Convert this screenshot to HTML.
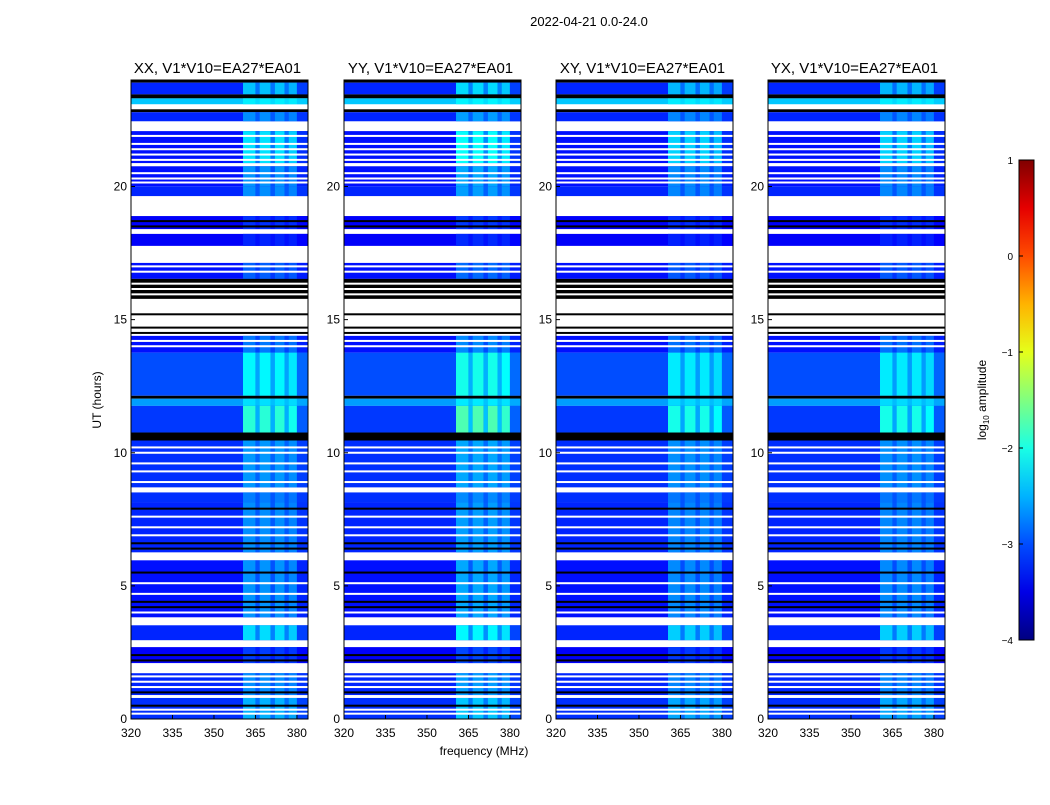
<!DOCTYPE html>
<html><head><meta charset="utf-8"><style>
body{margin:0;background:#fff;font-family:"Liberation Sans",sans-serif}
svg text{font-family:"Liberation Sans",sans-serif}
</style></head><body>
<svg id="fig" width="1050" height="800"></svg>
<script>
const titles=["XX, V1*V10=EA27*EA01","YY, V1*V10=EA27*EA01","XY, V1*V10=EA27*EA01","YX, V1*V10=EA27*EA01"];
const panelX=[131,344,556,768];
const panelGain=[0.65,0.75,0.6,0.6];
const xTicks=[320,335,350,365,380];
const yTicks=[0,5,10,15,20];
const cbTicks=[1,0,-1,-2,-3,-4];
// segments: kind, start hour, end hour, base log amplitude, band boost
const segKind=['k','d','k','d','w','k','d','w','d','w','d','d','w','d','w','d','w','d','k','w','d','d','k','d','d','k','d','w','d','d','w','d','w','d','w','d','w','d','w','d'];
const segStart=[23.9,23.46,23.31,23.09,22.9,22.79,22.45,22.08,20.88,20.76,20.01,19.64,18.89,18.4,18.22,17.77,17.13,16.53,15.78,14.39,13.76,12.14,12.03,11.76,10.76,10.46,8.7,8.51,8.13,6.26,5.96,3.82,3.52,2.96,2.7,2.1,1.72,0.9,0.79,0];
const segEnd=[24,23.9,23.46,23.31,23.09,22.9,22.79,22.45,22.08,20.88,20.76,20.01,19.64,18.89,18.4,18.22,17.77,17.13,16.53,15.78,14.39,13.76,12.14,12.03,11.76,10.76,10.46,8.7,8.51,8.13,6.26,5.96,3.82,3.52,2.96,2.7,2.1,1.72,0.9,0.79];
const segBase=[0,-3.2,0,-2.4,0,0,-3.2,0,-3.3,0,-3.3,-3.2,0,-3.4,0,-3.4,0,-3.3,0,0,-3.3,-3.0,0,-2.6,-3.1,0,-3.15,0,-3.15,-3.2,0,-3.3,0,-3.2,0,-3.4,0,-3.2,0,-3.15];
const segBoost=[0,1.2,0,0.3,0,0,0.8,0,1.6,0,1.0,0.8,0,0.4,0,0.3,0,0.6,0,0,0.8,1.3,0,0.5,1.8,0,0.8,0,0.6,0.8,0,1.0,0,1.4,0,0.5,0,0.8,0,1.0];
// thin lines overlaid: hour and kind
const lineHour=[21.9,21.6,21.4,21.2,21.0,20.5,20.3,20.15,18.7,18.5,17.0,16.8,16.35,16.15,15.95,15.2,14.7,14.5,14.2,14.0,10.2,10.0,9.6,9.3,8.9,7.9,7.6,7.2,6.9,6.6,6.4,5.5,5.1,4.7,4.4,4.2,4.0,2.4,2.2,1.6,1.4,1.2,1.0,0.5,0.35,0.2];
const lineKind=['w','w','w','w','w','w','w','w','k','k','w','w','w','w','w','k','k','k','w','w','w','w','w','w','w','k','w','w','w','k','k','k','w','w','k','k','w','k','k','w','w','w','k','k','w','w'];
// frequency bands of RFI brightness
const bandF0=[360.5,365,366.5,370.5,372,375.5,377,380];
const bandF1=[365,366.5,370.5,372,375.5,377,380,384];
const bandW=[1,0.5,1,0.5,1,0.5,0.9,0.15];

const svg=document.getElementById('fig');const NS='http://www.w3.org/2000/svg';
function mk(t,a,p){const e=document.createElementNS(NS,t);for(const k in a)e.setAttribute(k,a[k]);(p||svg).appendChild(e);return e;}
function jet(v){let t=Math.max(0,Math.min(1,(v+4)/5));
 const c=x=>Math.round(255*Math.max(0,Math.min(1,x)));
 const r=c(Math.min(4*t-1.5,-4*t+4.5)),g=c(Math.min(4*t-0.5,-4*t+3.5)),b=c(Math.min(4*t+0.5,-4*t+2.5));
 return `rgb(${r},${g},${b})`;}
const Y0=80,Y1=719,W=177;
const yS=h=>Y1-(h/24)*(Y1-Y0);
const xS=(px,f)=>px+(f-320)/64*W;
function txt(s,a,name,p){const e=mk('text',a,p);e.textContent=s;return e;}

txt("2022-04-21 0.0-24.0",{x:589,y:26,'font-size':13,'text-anchor':'middle'},'figure-title');
panelX.forEach((px,pi)=>{
 const g=mk('g',{});
 
 
 mk('rect',{x:px,y:Y0,width:W,height:Y1-Y0,fill:'#fff'},g);
 for(let i=0;i<segKind.length;i++){
  const y=yS(segEnd[i]),h=yS(segStart[i])-y;
  if(segKind[i]==='w')continue;
  if(segKind[i]==='k'){const r=mk('rect',{x:px,y,width:W,height:h,fill:'#000'},g);continue;}
  const r=mk('rect',{x:px,y,width:W,height:h,fill:jet(segBase[i])},g);
  
  
  for(let j=0;j<bandF0.length;j++){
   const v=segBase[i]+segBoost[i]*bandW[j]*panelGain[pi];
   const c=mk('rect',{x:xS(px,bandF0[j]),y,width:xS(px,bandF1[j])-xS(px,bandF0[j]),height:h,fill:jet(v)},g);
   
   
  }
 }
 for(let i=0;i<lineHour.length;i++){
  const l=mk('rect',{x:px,y:yS(lineHour[i])-1,width:W,height:2,fill:lineKind[i]==='w'?'#fff':'#000'},g);
  
  
 }
 mk('rect',{x:px,y:Y0,width:W,height:Y1-Y0,fill:'none',stroke:'#000','stroke-width':1},g);
 txt(titles[pi],{x:px+W/2-2,y:73,'font-size':15,'text-anchor':'middle'},'panel-title',g);
 xTicks.forEach(f=>{const x=xS(px,f);mk('line',{x1:x,x2:x,y1:Y1,y2:Y1-4,stroke:'#000'},g);txt(String(f),{x,y:737,'font-size':12,'text-anchor':'middle'},'x-tick-label',g);});
 yTicks.forEach(h=>{const y=yS(h);mk('line',{x1:px,x2:px+4,y1:y,y2:y,stroke:'#000'},g);txt(String(h),{x:px-4,y:y+4,'font-size':12,'text-anchor':'end'},'y-tick-label',g);});
});
txt("frequency (MHz)",{x:484,y:755,'font-size':12,'text-anchor':'middle'},'x-axis-title');
txt("UT (hours)",{x:101,y:400,'font-size':12,'text-anchor':'middle',transform:'rotate(-90 101 400)'},'y-axis-title');
const defs=mk('defs',{});const lg=mk('linearGradient',{id:'jg',x1:0,y1:1,x2:0,y2:0},defs);
for(let k=0;k<=10;k++)mk('stop',{offset:k/10,'stop-color':jet(-4+k*0.5)},lg);
const cb=mk('rect',{x:1019,y:160,width:15,height:480,fill:'url(#jg)',stroke:'#000'});


cbTicks.forEach(v=>{const y=640-(v+4)/5*480;mk('line',{x1:1019,x2:1023,y1:y,y2:y,stroke:'#000'});txt(v<0?'\u2212'+(-v):String(v),{x:1013,y:y+4,'font-size':10,'text-anchor':'end'},'colorbar-tick-label');});
const lab=txt("",{x:986,y:400,'font-size':12,'text-anchor':'middle',transform:'rotate(-90 986 400)'},'colorbar-label');
lab.innerHTML='log<tspan font-size="8" dy="3">10</tspan><tspan dy="-3"> amplitude</tspan>';
</script>
</body></html>
